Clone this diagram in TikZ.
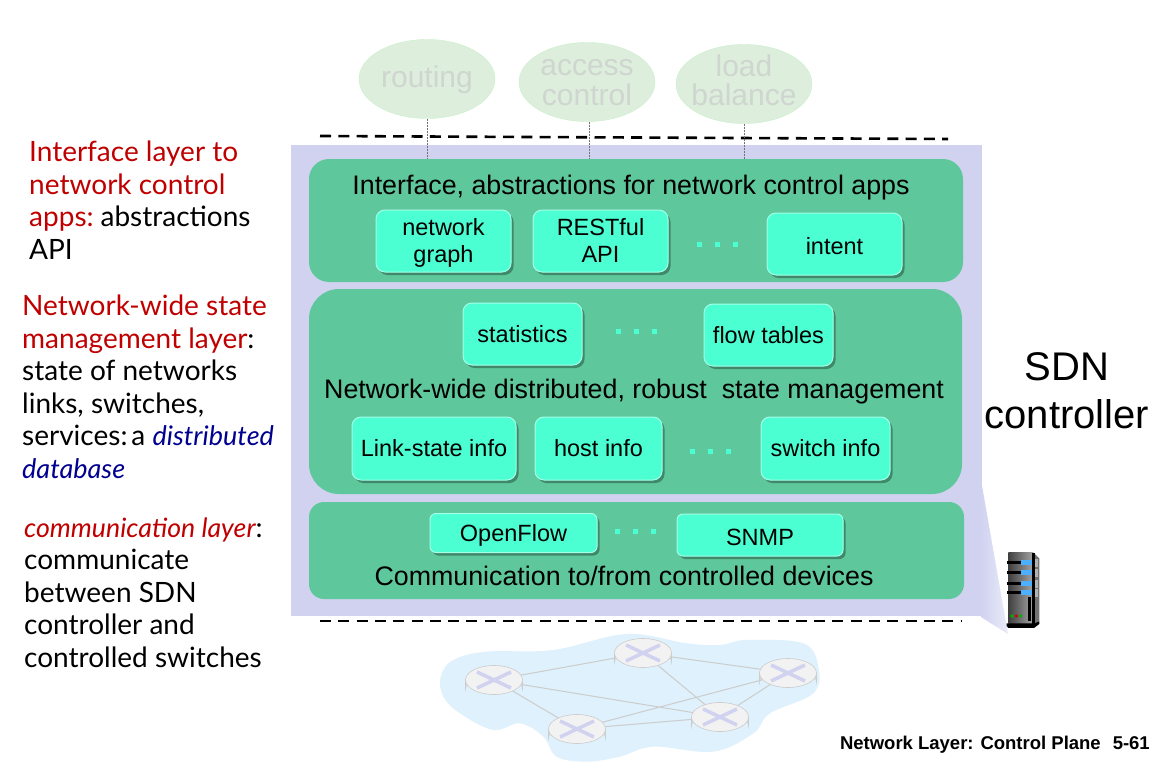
\documentclass[tikz,border=0pt]{standalone}
\usepackage{fontspec}
\setmainfont{Liberation Sans}
\newfontfamily\sidefont{Lato}
\newfontfamily\footfont{Liberation Sans}
\usetikzlibrary{shapes.geometric,shadows,calc}
\definecolor{lav}{HTML}{D0D2F0}
\definecolor{pan}{HTML}{5FC79C}
\definecolor{boxc}{HTML}{4CFFD2}
\definecolor{red1}{HTML}{C00000}
\definecolor{blue1}{HTML}{000090}
\definecolor{app}{HTML}{DDEEDD}
\definecolor{apptxt}{HTML}{CFD5CF}
\definecolor{cloudc}{HTML}{DEF1FC}
\newcommand{\fs}[1]{\fontsize{#1}{#1}\selectfont}
\newcommand{\Rd}[1]{{\color{red1}#1}}
\newcommand{\Bl}[1]{{\color{blue1}\fontsize{27}{32.5}\selectfont\itshape #1}}
% a line of text whose baseline lies #1 pt above the centre of its node
\newcommand{\tl}[2]{\makebox[0pt][c]{\raisebox{#1pt}{#2}}}
\newcommand{\ctext}[1]{\smash{#1}}
\tikzset{
 panel/.style={fill=pan,draw=none},
 bx/.style={fill=boxc,draw=white!50!boxc,line width=1pt,rounded corners=9pt,inner sep=0,align=center,font=\fs{23.5},text=black,
   drop shadow={shadow xshift=2.5pt,shadow yshift=-3pt,fill=black!70!pan,opacity=.45}},
 appell/.style={ellipse,fill=app,draw=app!90!green,inner sep=0,minimum width=136pt,minimum height=79pt,align=center,text=apptxt,font=\fontsize{30}{30}\selectfont},
 vline/.style={draw=black!55,dash pattern=on 2pt off 1pt,line width=.5pt},
 cut/.style={line width=2.6pt,dash pattern=on 11pt off 7.3pt},
 side/.style={anchor=north west,align=left,inner sep=0,font=\sidefont\fontsize{28}{32.5}\selectfont,text=black},
 title/.style={font=\fs{26.8},text=black,inner sep=0},
 dotsn/.style={fill=boxc,minimum size=5pt,inner sep=0},
 link/.style={draw=black!20,line width=1pt},
}
\newcommand{\rtr}[2]{%
 \path[fill=lav!55!white,draw=black!20,line width=.6pt] ($(#1)+(-28.5,0)$) -- ($(#1)+(-28.5,9)$) arc[start angle=180,end angle=360,x radius=28.5,y radius=14] -- ($(#1)+(28.5,0)$) -- cycle;
 \node[ellipse,fill=black!5,draw=black!20,line width=.6pt,minimum width=57pt,minimum height=29pt,inner sep=0] (#2) at (#1) {};
 \draw[lav,line width=3.5pt] ($(#1)+(-17,-8)$) -- ($(#1)+(17,8)$);
 \draw[lav,line width=3.5pt] ($(#1)+(-17,8)$) -- ($(#1)+(17,-8)$);
}
\newcommand{\dotrow}[2]{\foreach \d in {0,1,2}{\node[dotsn] at (#1+\d*18,#2) {};}}
\begin{document}
\begin{tikzpicture}[x=1pt,y=-1pt]
\useasboundingbox[fill=white] (0,0) rectangle (1165,768);
% apps
\node[appell] (routing) at (427,79) {\ctext{\tl{-9}{routing}}};
\node[appell] (access) at (587,82) {\ctext{\tl{6}{access}\tl{-23}{control}}};
\node[appell] (load) at (744,84) {\ctext{\tl{7}{load}\tl{-22}{balance}}};
% panel
\shade[left color=lav,right color=lav!45!white] (981,480) -- (1008,634) -- (981,617) -- cycle;
\fill[lav] (291,145) rectangle (982,616);
\draw[cut] (320,136) -- (948,139);
\draw[cut] (320,621) -- (962,621);
\path[panel,rounded corners=20pt] (309,159) rectangle (963,282);
\coordinate (ifacetop) at (309,159);
\path[panel,rounded corners=30pt] (309,289) rectangle (962,494);
\path[panel,rounded corners=15pt] (309,502) rectangle (964,599);
\draw[vline] (routing.south) -- (routing.south |- ifacetop);
\draw[vline] ([xshift=2pt]access.south) -- ([xshift=2pt]access.south |- ifacetop);
\draw[vline] (load.south) -- (load.south |- ifacetop);
% titles
\node[title] (t1) at (631,187.5) {Interface, abstractions for network control apps};
\node[title] (t2) at (634,391.5) {Network-wide distributed, robust\ \ state management};
\node[title] (t3) at (624,576) {Communication to/from controlled devices};
% boxes
\node[bx,minimum width=135pt,minimum height=62pt] (ng) at (443.5,241) {\ctext{\tl{6}{network}\tl{-21}{graph}}};
\node[bx,minimum width=135pt,minimum height=62pt] (rest) at (600.5,241) {\ctext{\tl{6}{RESTful}\tl{-21}{API}}};
\node[bx,minimum width=135pt,minimum height=62pt] (intent) at (834.5,244) {\ctext{\tl{-10}{intent}}};
\node[bx,minimum width=119pt,minimum height=62pt] (stats) at (522.5,334) {statistics};
\node[bx,minimum width=129pt,minimum height=62pt] (flow) at (768.5,335) {flow tables};
\node[bx,minimum width=164pt,minimum height=63pt] (ls) at (434,448.5) {Link-state info};
\node[bx,minimum width=127pt,minimum height=63pt] (host) at (598.5,448.5) {host info};
\node[bx,minimum width=129pt,minimum height=63pt] (sw) at (825.5,448.5) {switch info};
\node[bx,minimum width=167pt,minimum height=39pt,rounded corners=6pt] (of) at (513.5,533) {\ctext{\tl{-8}{OpenFlow}}};
\node[bx,minimum width=166pt,minimum height=42pt,rounded corners=6pt] (snmp) at (760,535) {\ctext{\tl{-10}{SNMP}}};
\dotrow{699}{244}
\dotrow{618}{331}
\dotrow{692}{451}
\dotrow{617}{531}
% SDN
\node[align=center,inner sep=0,font=\fontsize{40}{48}\selectfont] (sdn) at (1067,391) {SDN\\controller};
% left
\node[side] (l1) at (29,141) {\Rd{Interface layer to}\\\Rd{network control}\\\Rd{apps:}\hspace{7pt}abstractions\\API};
\node[side] (l2) at (22,295) {\Rd{Network-wide state}\\\Rd{management layer}:\\state of networks\\links, switches,\\services:\hspace{4pt}a \Bl{distributed}\\\Bl{database}};
\node[side] (l3) at (24,517.5) {\Rd{\fontsize{26.7}{32.5}\selectfont\itshape communication layer}:\\communicate\\between SDN\\controller and\\controlled switches};
% cloud
\begin{scope}[shift={(420,600)},x=.3333pt,y=-.3333pt]
\fill[cloudc] plot[smooth cycle,tension=.6] coordinates {(62,230)(100,180)(200,155)(400,150)(620,102)(800,130)(900,135)(980,120)(1150,130)(1195,200)(1180,280)(1050,340)(1000,400)(880,455)(700,440)(600,470)(500,485)(410,470)(370,410)(300,370)(220,390)(120,340)(70,290)};
\end{scope}
\coordinate (c1) at (494,680);
\coordinate (c2) at (643,653);
\coordinate (c3) at (788,673);
\coordinate (c4) at (720,717);
\coordinate (c5) at (577,729);
\draw[link] (c1) -- (c2) (c2) -- (c3) (c2) -- (c4) (c1) -- (c4) (c1) -- (c5) (c5) -- (c3) (c5) -- (c4) (c4) -- (c3);
\rtr{c1}{r1}
\rtr{c2}{r2}
\rtr{c3}{r3}
\rtr{c4}{r4}
\rtr{c5}{r5}
% server
\begin{scope}[shift={(950,480)},x=.3333pt,y=-.3333pt]
\fill[black!55] (250,218) -- (268,235) -- (268,425) -- (250,440) -- cycle;
\shade[left color=black!75,right color=black!35] (175,218) rectangle (250,430);
\fill[black] (247,218) rectangle (254,432);
\fill[black] (170,430) -- (252,430) -- (268,425) -- (268,432) -- (252,444) -- (175,444) -- (170,438) -- cycle;
\foreach \y in {247,278,310,338}{
 \fill[black] (172,\y-4) rectangle (216,\y+4);
 \fill[blue!45!cyan!70!white] (214,\y-7) rectangle (247,\y+7);
 \fill[black!30] (255,\y-10) rectangle (265,\y+14);
}
\fill[black] (233,350) rectangle (244,424);
\fill[green!70!black] (186,408) circle (5.5);
\fill[red!85!black] (199,408) circle (5.5);
\fill[green!70!black] (212,408) circle (5.5);
\end{scope}
% footer
\node[anchor=east,inner sep=0,font=\footfont\bfseries\fs{18.5}] (foot) at (1150,745) {Network Layer: Control Plane\hspace{12pt}5-61};
\end{tikzpicture}
\end{document}
